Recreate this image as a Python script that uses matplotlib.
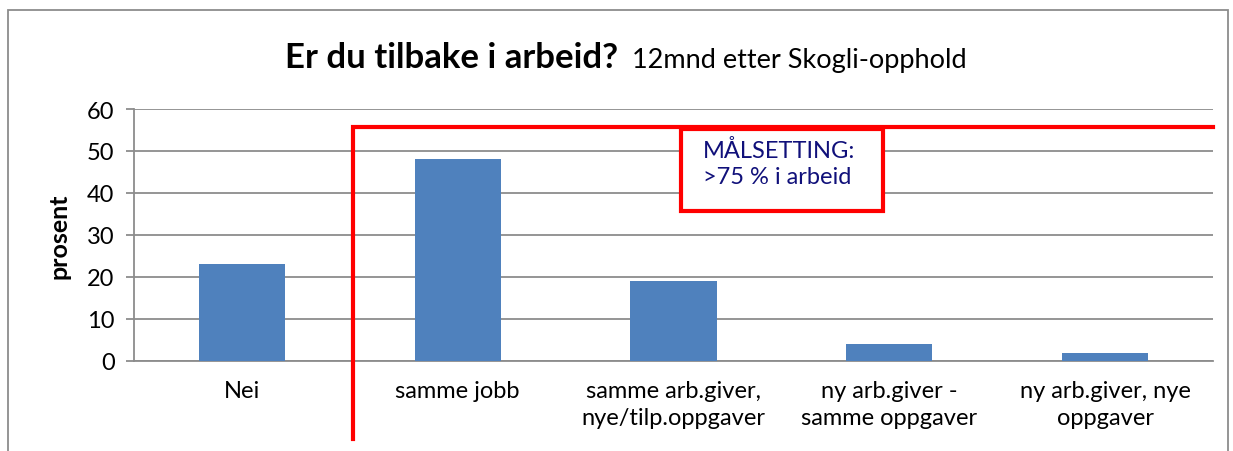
import numpy as np
import matplotlib.pyplot as plt
from matplotlib.patches import Rectangle

plt.rcParams['font.family'] = ['Lato', 'DejaVu Sans']

categories = ['Nei', 'samme jobb', 'samme arb.giver,\nnye/tilp.oppgaver',
              'ny arb.giver -\nsamme oppgaver', 'ny arb.giver, nye\noppgaver']
values = [23, 48, 19, 4, 2]
yticks = [0, 10, 20, 30, 40, 50, 60]

W, H = 1233, 452
fig = plt.figure(figsize=(W / 100, H / 100), dpi=100)
ax = fig.add_axes([134 / W, 1 - 362 / H, (1213 - 134) / W, (362 - 110) / H])

# outer chart frame
fig.patches.append(Rectangle((8 / W, -0.1), (1228 - 8) / W, 1.1 - 11 / H,
                             transform=fig.transFigure, fill=False,
                             edgecolor='#8c8c8c', linewidth=1.3))

x = np.arange(len(categories))
ax.bar(x, values, width=0.4, color='#4f81bd', zorder=3)

ax.set_xlim(-0.5, len(categories) - 0.5)
ax.set_ylim(0, 60)
ax.set_yticks(yticks)
ax.set_xticks(x)
ax.set_xticklabels(categories, fontsize=17, linespacing=1.3)
ax.tick_params(axis='x', length=0, pad=14)
ax.tick_params(axis='y', length=6, width=1.3, color='#8c8c8c', labelsize=17, pad=8)
ax.grid(axis='y', color='#8c8c8c', linewidth=1.3, zorder=0)
for side in ['top', 'right']:
    ax.spines[side].set_visible(False)
for side in ['left', 'bottom']:
    ax.spines[side].set_color('#8c8c8c')
    ax.spines[side].set_linewidth(1.3)

ax.set_ylabel('prosent', fontsize=18, fontweight='bold', labelpad=12)

# goal markers
ax.plot([0.515, 0.515, 4.5], [-18.6, 55.7, 55.7], color='#ff0000',
        linewidth=3, clip_on=False, zorder=5, solid_joinstyle='miter')
ax.add_patch(Rectangle((2.035, 35.7), 0.936, 19.5, fill=True, facecolor='white',
                       edgecolor='#ff0000', linewidth=3, zorder=6))
ax.text(2.137, 52.8, 'MÅLSETTING:\n>75 % i arbeid', fontsize=17, color='#10107a',
        va='top', ha='left', linespacing=1.3, zorder=7)

fig.text(618 / W, 1 - 68 / H, 'Er du tilbake i arbeid?', fontsize=25,
         fontweight='bold', ha='right', va='baseline')
fig.text(632 / W, 1 - 68 / H, '12mnd etter Skogli-opphold', fontsize=19.5,
         ha='left', va='baseline')

fig.savefig('out.png', dpi=100)
